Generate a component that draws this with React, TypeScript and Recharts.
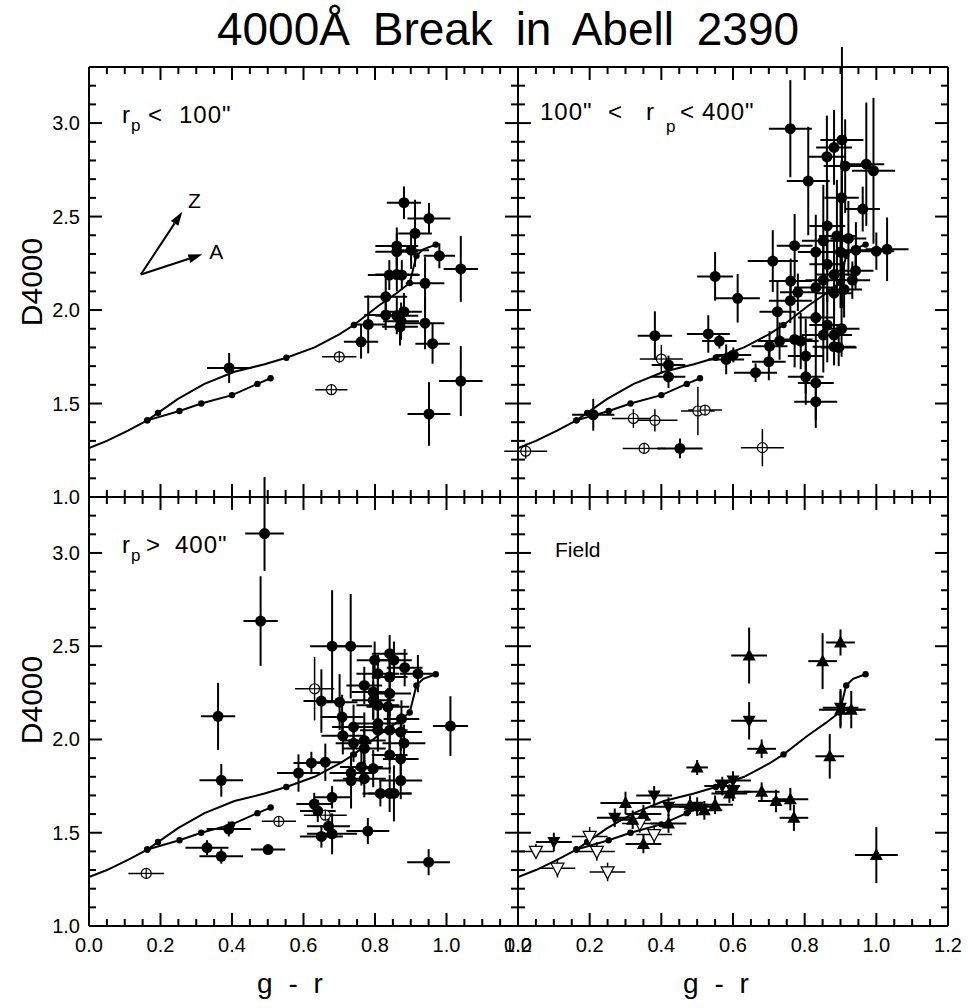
import React from 'react';
import { ScatterChart, Scatter, XAxis, YAxis, ErrorBar, ReferenceLine } from 'recharts';

const FONT = '"Liberation Sans", Arial, Helvetica, sans-serif';

// ---------- ticks ----------
const X_TICKS = [0, 0.05, 0.1, 0.15, 0.2, 0.25, 0.3, 0.35, 0.4, 0.45, 0.5, 0.55, 0.6, 0.65, 0.7, 0.75, 0.8, 0.85, 0.9, 0.95, 1.0, 1.05, 1.1, 1.15, 1.2];
const X_MAJOR = [0, 0.2, 0.4, 0.6, 0.8, 1.0, 1.2];
const Y_TICKS = [1.0, 1.1, 1.2, 1.3, 1.4, 1.5, 1.6, 1.7, 1.8, 1.9, 2.0, 2.1, 2.2, 2.3, 2.4, 2.5, 2.6, 2.7, 2.8, 2.9, 3.0, 3.1, 3.2];
const Y_MAJOR = [1.0, 1.5, 2.0, 2.5, 3.0];
const X_DOMAIN = [0, 1.2];
const Y_DOMAIN = [1.0, 3.3];

// ---------- model curves ----------
const MODEL_A = [
  { x: 0.0, y: 1.262 }, { x: 0.05, y: 1.3 }, { x: 0.109, y: 1.355 }, { x: 0.163, y: 1.41, d: 1 },
  { x: 0.193, y: 1.45, d: 1 }, { x: 0.249, y: 1.525 }, { x: 0.323, y: 1.605 }, { x: 0.407, y: 1.67 },
  { x: 0.491, y: 1.71 }, { x: 0.552, y: 1.745, d: 1 }, { x: 0.631, y: 1.8 }, { x: 0.7, y: 1.87 },
  { x: 0.741, y: 1.92, d: 1 }, { x: 0.808, y: 2.02 }, { x: 0.86, y: 2.09 }, { x: 0.897, y: 2.145, d: 1 },
  { x: 0.916, y: 2.29, d: 1 }, { x: 0.935, y: 2.325 }, { x: 0.97, y: 2.35, d: 1 },
];
const MODEL_B = [
  { x: 0.163, y: 1.41, d: 1 }, { x: 0.253, y: 1.46, d: 1 }, { x: 0.314, y: 1.5, d: 1 },
  { x: 0.4, y: 1.545, d: 1 }, { x: 0.471, y: 1.605, d: 1 }, { x: 0.508, y: 1.635, d: 1 },
];

// ---------- r_p < 100" ----------
const CORE_FILLED = [
  { x: 0.392, y: 1.69, ex: 0.062, ey: 0.08 },
  { x: 0.881, y: 2.574, ex: 0.048, ey: 0.087 },
  { x: 0.951, y: 2.49, ex: 0.06, ey: 0.083 },
  { x: 0.912, y: 2.41, ex: 0.047, ey: 0.18 },
  { x: 0.861, y: 2.342, ex: 0.06, ey: 0.1 },
  { x: 0.861, y: 2.312, ex: 0.06, ey: 0.1 },
  { x: 0.901, y: 2.32, ex: 0.05, ey: 0.1 },
  { x: 0.98, y: 2.29, ex: 0.044, ey: 0.067 },
  { x: 1.04, y: 2.22, ex: 0.048, ey: 0.176 },
  { x: 0.84, y: 2.187, ex: 0.06, ey: 0.08 },
  { x: 0.861, y: 2.19, ex: 0.06, ey: 0.09 },
  { x: 0.875, y: 2.187, ex: 0.05, ey: 0.08 },
  { x: 0.94, y: 2.143, ex: 0.054, ey: 0.14 },
  { x: 0.83, y: 2.071, ex: 0.06, ey: 0.1 },
  { x: 0.83, y: 1.973, ex: 0.06, ey: 0.08 },
  { x: 0.881, y: 1.991, ex: 0.05, ey: 0.1 },
  { x: 0.861, y: 1.97, ex: 0.06, ey: 0.1 },
  { x: 0.873, y: 1.94, ex: 0.05, ey: 0.1 },
  { x: 0.87, y: 1.91, ex: 0.05, ey: 0.1 },
  { x: 0.94, y: 1.93, ex: 0.054, ey: 0.14 },
  { x: 0.781, y: 1.923, ex: 0.048, ey: 0.155 },
  { x: 0.761, y: 1.83, ex: 0.048, ey: 0.09 },
  { x: 0.961, y: 1.82, ex: 0.048, ey: 0.107 },
  { x: 1.04, y: 1.62, ex: 0.061, ey: 0.187 },
  { x: 0.951, y: 1.444, ex: 0.06, ey: 0.17 },
];
const CORE_OPEN = [
  { x: 0.7, y: 1.75, ex: 0.048, ey: 0.03 },
  { x: 0.678, y: 1.574, ex: 0.045, ey: 0.02 },
];

// ---------- 100" < r_p < 400" ----------
const MID_FILLED = [
  { x: 0.21, y: 1.44, ex: 0.059, ey: 0.085 },
  { x: 0.452, y: 1.26, ex: 0.063, ey: 0.053 },
  { x: 0.382, y: 1.863, ex: 0.048, ey: 0.13 },
  { x: 0.42, y: 1.706, ex: 0.047, ey: 0.05 },
  { x: 0.42, y: 1.643, ex: 0.047, ey: 0.06 },
  { x: 0.55, y: 2.18, ex: 0.05, ey: 0.13 },
  { x: 0.613, y: 2.063, ex: 0.062, ey: 0.13 },
  { x: 0.531, y: 1.872, ex: 0.06, ey: 0.1 },
  { x: 0.562, y: 1.834, ex: 0.048, ey: 0.04 },
  { x: 0.581, y: 1.736, ex: 0.05, ey: 0.08 },
  { x: 0.601, y: 1.76, ex: 0.05, ey: 0.04 },
  { x: 0.663, y: 1.665, ex: 0.06, ey: 0.05 },
  { x: 0.7, y: 1.724, ex: 0.047, ey: 0.1 },
  { x: 0.702, y: 1.807, ex: 0.05, ey: 0.08 },
  { x: 0.73, y: 1.834, ex: 0.06, ey: 0.1 },
  { x: 0.724, y: 1.991, ex: 0.05, ey: 0.165 },
  { x: 0.711, y: 2.262, ex: 0.07, ey: 0.165 },
  { x: 0.772, y: 2.344, ex: 0.05, ey: 0.17 },
  { x: 0.76, y: 2.97, ex: 0.06, ey: 0.26 },
  { x: 0.81, y: 2.69, ex: 0.06, ey: 0.29 },
  { x: 0.862, y: 2.82, ex: 0.05, ey: 0.22 },
  { x: 0.882, y: 2.87, ex: 0.05, ey: 0.2 },
  { x: 0.904, y: 2.91, ex: 0.06, ey: [0.9, 0.5] },
  { x: 0.913, y: 2.77, ex: 0.06, ey: 0.25 },
  { x: 0.972, y: 2.78, ex: 0.05, ey: 0.33 },
  { x: 0.992, y: 2.745, ex: 0.06, ey: 0.39 },
  { x: 0.903, y: 2.6, ex: 0.048, ey: 0.2 },
  { x: 0.962, y: 2.54, ex: 0.048, ey: 0.12 },
  { x: 0.863, y: 2.45, ex: 0.05, ey: 0.25 },
  { x: 0.89, y: 2.396, ex: 0.05, ey: 0.3 },
  { x: 0.922, y: 2.383, ex: 0.05, ey: 0.2 },
  { x: 0.852, y: 2.37, ex: 0.06, ey: 0.3 },
  { x: 0.831, y: 2.31, ex: 0.05, ey: 0.2 },
  { x: 0.943, y: 2.32, ex: 0.05, ey: 0.15 },
  { x: 0.9, y: 2.31, ex: 0.05, ey: 0.3 },
  { x: 1.03, y: 2.325, ex: 0.06, ey: 0.17 },
  { x: 1.0, y: 2.315, ex: 0.05, ey: 0.1 },
  { x: 0.863, y: 2.245, ex: 0.05, ey: 0.2 },
  { x: 0.882, y: 2.19, ex: 0.05, ey: 0.2 },
  { x: 0.942, y: 2.21, ex: 0.05, ey: 0.1 },
  { x: 0.831, y: 2.12, ex: 0.06, ey: 0.2 },
  { x: 0.852, y: 2.16, ex: 0.05, ey: 0.2 },
  { x: 0.882, y: 2.09, ex: 0.05, ey: 0.2 },
  { x: 0.91, y: 2.11, ex: 0.05, ey: 0.15 },
  { x: 0.933, y: 2.16, ex: 0.05, ey: 0.1 },
  { x: 0.761, y: 2.155, ex: 0.06, ey: 0.12 },
  { x: 0.781, y: 2.095, ex: 0.05, ey: 0.1 },
  { x: 0.76, y: 2.05, ex: 0.06, ey: 0.12 },
  { x: 0.831, y: 1.96, ex: 0.05, ey: 0.2 },
  { x: 0.863, y: 1.92, ex: 0.05, ey: 0.2 },
  { x: 0.852, y: 1.866, ex: 0.06, ey: 0.2 },
  { x: 0.882, y: 1.866, ex: 0.05, ey: 0.15 },
  { x: 0.903, y: 1.9, ex: 0.05, ey: 0.15 },
  { x: 0.772, y: 1.843, ex: 0.05, ey: 0.15 },
  { x: 0.789, y: 1.834, ex: 0.05, ey: 0.15 },
  { x: 0.803, y: 1.754, ex: 0.05, ey: 0.2 },
  { x: 0.803, y: 1.643, ex: 0.05, ey: 0.15 },
  { x: 0.831, y: 1.61, ex: 0.05, ey: 0.2 },
  { x: 0.831, y: 1.51, ex: 0.06, ey: 0.14 },
  { x: 0.882, y: 1.804, ex: 0.06, ey: 0.1 },
  { x: 0.895, y: 1.8, ex: 0.05, ey: 0.1 },
];
const MID_OPEN = [
  { x: 0.0215, y: 1.245, ex: 0.06, ey: 0.04 },
  { x: 0.322, y: 1.42, ex: 0.06, ey: 0.05 },
  { x: 0.382, y: 1.41, ex: 0.063, ey: 0.06 },
  { x: 0.352, y: 1.26, ex: 0.06, ey: 0.03 },
  { x: 0.502, y: 1.46, ex: 0.047, ey: 0.13 },
  { x: 0.522, y: 1.465, ex: 0.047, ey: 0.02 },
  { x: 0.4, y: 1.738, ex: 0.06, ey: 0.076 },
  { x: 0.682, y: 1.264, ex: 0.06, ey: 0.1 },
];

// ---------- r_p > 400" ----------
const OUTER_FILLED = [
  { x: 0.491, y: 3.104, ex: 0.054, ey: [0.2, 0.4] },
  { x: 0.48, y: 2.635, ex: 0.048, ey: 0.24 },
  { x: 0.361, y: 2.124, ex: 0.048, ey: 0.18 },
  { x: 0.37, y: 1.781, ex: 0.061, ey: 0.088 },
  { x: 0.33, y: 1.42, ex: 0.06, ey: 0.04 },
  { x: 0.37, y: 1.374, ex: 0.061, ey: 0.04 },
  { x: 0.391, y: 1.52, ex: 0.062, ey: 0.04 },
  { x: 0.501, y: 1.41, ex: 0.048, ey: 0.02 },
  { x: 0.65, y: 2.206, ex: 0.05, ey: 0.17 },
  { x: 0.68, y: 2.5, ex: 0.062, ey: 0.3 },
  { x: 0.732, y: 2.5, ex: 0.06, ey: 0.28 },
  { x: 1.011, y: 2.072, ex: 0.049, ey: 0.16 },
  { x: 0.95, y: 1.342, ex: 0.06, ey: 0.07 },
  { x: 0.78, y: 1.509, ex: 0.06, ey: 0.07 },
  { x: 0.65, y: 1.48, ex: 0.06, ey: 0.06 },
  { x: 0.68, y: 1.494, ex: 0.07, ey: 0.11 },
  { x: 0.67, y: 1.535, ex: 0.06, ey: 0.06 },
  { x: 0.68, y: 1.69, ex: 0.05, ey: 0.06 },
  { x: 0.63, y: 1.654, ex: 0.05, ey: 0.06 },
  { x: 0.64, y: 1.617, ex: 0.05, ey: 0.06 },
  { x: 0.586, y: 1.82, ex: 0.06, ey: 0.1 },
  { x: 0.622, y: 1.874, ex: 0.05, ey: 0.06 },
  { x: 0.661, y: 1.878, ex: 0.05, ey: 0.1 },
  { x: 0.701, y: 2.2, ex: 0.05, ey: 0.15 },
  { x: 0.708, y: 2.12, ex: 0.06, ey: 0.12 },
  { x: 0.71, y: 2.02, ex: 0.06, ey: 0.1 },
  { x: 0.74, y: 2.067, ex: 0.06, ey: 0.12 },
  { x: 0.74, y: 1.98, ex: 0.05, ey: 0.1 },
  { x: 0.733, y: 1.82, ex: 0.06, ey: 0.08 },
  { x: 0.733, y: 1.78, ex: 0.05, ey: 0.15 },
  { x: 0.77, y: 2.29, ex: 0.05, ey: 0.1 },
  { x: 0.77, y: 1.995, ex: 0.06, ey: 0.15 },
  { x: 0.77, y: 1.952, ex: 0.06, ey: 0.1 },
  { x: 0.762, y: 1.853, ex: 0.06, ey: 0.1 },
  { x: 0.77, y: 1.79, ex: 0.06, ey: 0.1 },
  { x: 0.795, y: 2.255, ex: 0.06, ey: 0.15 },
  { x: 0.795, y: 2.21, ex: 0.06, ey: 0.1 },
  { x: 0.799, y: 2.425, ex: 0.05, ey: 0.1 },
  { x: 0.808, y: 2.353, ex: 0.06, ey: 0.1 },
  { x: 0.808, y: 2.183, ex: 0.06, ey: 0.15 },
  { x: 0.808, y: 2.085, ex: 0.06, ey: 0.15 },
  { x: 0.808, y: 2.05, ex: 0.05, ey: 0.1 },
  { x: 0.841, y: 2.46, ex: 0.05, ey: 0.1 },
  { x: 0.853, y: 2.425, ex: 0.05, ey: 0.1 },
  { x: 0.841, y: 2.335, ex: 0.05, ey: 0.15 },
  { x: 0.841, y: 2.246, ex: 0.06, ey: 0.12 },
  { x: 0.836, y: 2.175, ex: 0.06, ey: 0.1 },
  { x: 0.841, y: 2.05, ex: 0.05, ey: 0.12 },
  { x: 0.841, y: 1.917, ex: 0.05, ey: 0.1 },
  { x: 0.883, y: 2.385, ex: 0.05, ey: 0.1 },
  { x: 0.92, y: 2.353, ex: 0.05, ey: 0.1 },
  { x: 0.874, y: 2.11, ex: 0.05, ey: 0.1 },
  { x: 0.872, y: 2.04, ex: 0.06, ey: 0.1 },
  { x: 0.881, y: 1.98, ex: 0.06, ey: 0.1 },
  { x: 0.872, y: 1.896, ex: 0.05, ey: 0.1 },
  { x: 0.872, y: 1.78, ex: 0.06, ey: 0.1 },
  { x: 0.795, y: 1.844, ex: 0.05, ey: 0.1 },
  { x: 0.815, y: 1.711, ex: 0.05, ey: 0.07 },
  { x: 0.841, y: 1.711, ex: 0.06, ey: 0.1 },
  { x: 0.853, y: 1.711, ex: 0.05, ey: 0.15 },
];
const OUTER_OPEN = [
  { x: 0.16, y: 1.282, ex: 0.05, ey: 0.02 },
  { x: 0.531, y: 1.561, ex: 0.048, ey: 0.02 },
  { x: 0.631, y: 2.272, ex: 0.055, ey: 0.17 },
  { x: 0.661, y: 1.594, ex: 0.06, ey: 0.02 },
];

// ---------- Field ----------
const FIELD_UP = [
  { x: 0.645, y: 2.45, ex: 0.05, ey: 0.15 },
  { x: 0.68, y: 1.95, ex: 0.04, ey: 0.05 },
  { x: 0.85, y: 2.42, ex: 0.04, ey: 0.15 },
  { x: 0.9, y: 2.52, ex: 0.04, ey: 0.07 },
  { x: 0.87, y: 1.91, ex: 0.04, ey: 0.12 },
  { x: 0.9, y: 2.16, ex: 0.06, ey: 0.1 },
  { x: 0.93, y: 2.16, ex: 0.04, ey: 0.1 },
  { x: 1.0, y: 1.38, ex: 0.06, ey: 0.15 },
  { x: 0.5, y: 1.85, ex: 0.03, ey: 0.04 },
  { x: 0.3, y: 1.66, ex: 0.07, ey: 0.06 },
  { x: 0.35, y: 1.6, ex: 0.05, ey: 0.05 },
  { x: 0.35, y: 1.44, ex: 0.05, ey: 0.05 },
  { x: 0.42, y: 1.55, ex: 0.05, ey: 0.05 },
  { x: 0.48, y: 1.65, ex: 0.05, ey: 0.05 },
  { x: 0.52, y: 1.62, ex: 0.05, ey: 0.05 },
  { x: 0.55, y: 1.65, ex: 0.05, ey: 0.05 },
  { x: 0.59, y: 1.71, ex: 0.05, ey: 0.05 },
  { x: 0.68, y: 1.72, ex: 0.05, ey: 0.05 },
  { x: 0.72, y: 1.67, ex: 0.05, ey: 0.06 },
  { x: 0.76, y: 1.68, ex: 0.05, ey: 0.06 },
  { x: 0.77, y: 1.58, ex: 0.04, ey: 0.07 },
  { x: 0.32, y: 1.57, ex: 0.05, ey: 0.05 },
];
const FIELD_DOWN = [
  { x: 0.645, y: 2.1, ex: 0.05, ey: 0.1 },
  { x: 0.9, y: 2.17, ex: 0.05, ey: 0.1 },
  { x: 0.38, y: 1.7, ex: 0.05, ey: 0.05 },
  { x: 0.42, y: 1.64, ex: 0.05, ey: 0.05 },
  { x: 0.5, y: 1.64, ex: 0.05, ey: 0.05 },
  { x: 0.57, y: 1.75, ex: 0.05, ey: 0.05 },
  { x: 0.6, y: 1.78, ex: 0.05, ey: 0.05 },
  { x: 0.6, y: 1.72, ex: 0.05, ey: 0.05 },
  { x: 0.1, y: 1.45, ex: 0.05, ey: 0.05 },
  { x: 0.27, y: 1.58, ex: 0.05, ey: 0.05 },
];
const FIELD_OPEN_DOWN = [
  { x: 0.05, y: 1.4, ex: 0.05, ey: 0.04 },
  { x: 0.11, y: 1.31, ex: 0.05, ey: 0.05 },
  { x: 0.2, y: 1.48, ex: 0.05, ey: 0.05 },
  { x: 0.22, y: 1.4, ex: 0.05, ey: 0.05 },
  { x: 0.25, y: 1.29, ex: 0.05, ey: 0.05 },
  { x: 0.34, y: 1.55, ex: 0.05, ey: 0.05 },
  { x: 0.38, y: 1.49, ex: 0.05, ey: 0.05 },
];

// ---------- vectors ----------
const VEC_ORIGIN = { x: 0.145, y: 2.19 };
const VEC_Z = { x: 0.261, y: 2.526 };
const VEC_A = { x: 0.317, y: 2.298 };

// ---------- shapes ----------
const FilledCircle = (p: any) => <circle cx={p.cx} cy={p.cy} r={5.5} fill="#000" />;
const OpenCircle = (p: any) => (
  <g>
    <circle cx={p.cx} cy={p.cy} r={5} fill="#fff" stroke="#000" strokeWidth={1.2} />
    <line x1={p.cx - 5} y1={p.cy} x2={p.cx + 5} y2={p.cy} stroke="#000" strokeWidth={1.2} />
    <line x1={p.cx} y1={p.cy - 5} x2={p.cx} y2={p.cy + 5} stroke="#000" strokeWidth={1.2} />
  </g>
);
const CurveDot = (p: any) => {
  const d = (p.payload && p.payload.d) || p.d;
  return d ? <circle cx={p.cx} cy={p.cy} r={3.2} fill="#000" /> : <g />;
};
const TriUp = (p: any) => (
  <polygon points={`${p.cx},${p.cy - 7} ${p.cx - 6.5},${p.cy + 5} ${p.cx + 6.5},${p.cy + 5}`} fill="#000" />
);
const TriDown = (p: any) => (
  <polygon points={`${p.cx},${p.cy + 7} ${p.cx - 6.5},${p.cy - 5} ${p.cx + 6.5},${p.cy - 5}`} fill="#000" />
);
const TriDownOpen = (p: any) => (
  <polygon points={`${p.cx},${p.cy + 7} ${p.cx - 6.5},${p.cy - 5} ${p.cx + 6.5},${p.cy - 5}`} fill="#fff" stroke="#000" strokeWidth={1.2} />
);

const arrowShape = (label: string, dx: number, dy: number) => (p: any) => {
  const { x1, y1, x2, y2 } = p;
  const ang = Math.atan2(y2 - y1, x2 - x1);
  const L = 14, Wd = 4.5;
  const bx = x2 - L * Math.cos(ang), by = y2 - L * Math.sin(ang);
  const px = -Math.sin(ang) * Wd, py = Math.cos(ang) * Wd;
  return (
    <g>
      <line x1={x1} y1={y1} x2={bx} y2={by} stroke="#000" strokeWidth={2} />
      <polygon points={`${x2},${y2} ${bx + px},${by + py} ${bx - px},${by - py}`} fill="#000" />
      <text x={x2 + dx} y={y2 + dy} fontFamily={FONT} fontSize={21} textAnchor="middle" dominantBaseline="central" fill="#000">{label}</text>
    </g>
  );
};

// ---------- ticks ----------
const isIn = (arr: number[], v: number) => arr.some((m) => Math.abs(m - v) < 1e-6);
const makeTick = (orient: string, showLabel: boolean, majors: number[]) => (props: any) => {
  const { x, y, payload } = props;
  const v = payload.value;
  const major = isIn(majors, v);
  const len = major ? 13 : 7;
  let ln;
  if (orient === 'left') ln = { x1: x, y1: y, x2: x + len, y2: y };
  else if (orient === 'right') ln = { x1: x, y1: y, x2: x - len, y2: y };
  else if (orient === 'top') ln = { x1: x, y1: y, x2: x, y2: y + len };
  else ln = { x1: x, y1: y, x2: x, y2: y - len };
  let label = null;
  if (showLabel && major) {
    if (orient === 'left')
      label = <text x={x - 9} y={y} textAnchor="end" dominantBaseline="central" fontFamily={FONT} fontSize={20} fill="#000">{v.toFixed(1)}</text>;
    else if (orient === 'bottom')
      label = <text x={x} y={y + 26} textAnchor="middle" fontFamily={FONT} fontSize={20} fill="#000">{v.toFixed(1)}</text>;
  }
  return (
    <g>
      <line {...ln} stroke="#000" strokeWidth={2} />
      {label}
    </g>
  );
};

const AXIS_LINE = { stroke: '#000', strokeWidth: 2 };
// one pixel of each side is taken by the axis band (size 1)
const M = { top: 19, right: 19, bottom: 39, left: 49 };
const PAD = 1;

function series(key: string, data: any[], shape: any, sw: number) {
  return (
    <Scatter key={key} xAxisId="b" yAxisId="l" data={data} shape={shape} isAnimationActive={false}>
      <ErrorBar dataKey="ex" direction="x" width={0} stroke="#000" strokeWidth={sw} isAnimationActive={false} />
      <ErrorBar dataKey="ey" direction="y" width={0} stroke="#000" strokeWidth={sw} isAnimationActive={false} />
    </Scatter>
  );
}
function curves() {
  return [
    <Scatter key="ma" xAxisId="b" yAxisId="l" data={MODEL_A} fill="#000" line={{ stroke: '#000', strokeWidth: 2 }} shape={CurveDot} isAnimationActive={false} />,
    <Scatter key="mb" xAxisId="b" yAxisId="l" data={MODEL_B} fill="#000" line={{ stroke: '#000', strokeWidth: 2 }} shape={CurveDot} isAnimationActive={false} />,
  ];
}

function Panel(props: { left: number; top: number; w: number; h: number; showX: boolean; showY: boolean; children: any }) {
  const { left, top, w, h, showX, showY, children } = props;
  const ml = M.left + PAD, mt = M.top + PAD, mr = M.right + PAD, mb = M.bottom + PAD;
  return (
    <div style={{ position: 'absolute', left: left - ml, top: top - mt }}>
      <ScatterChart width={w + ml + mr} height={h + mt + mb} margin={M}>
        <XAxis xAxisId="b" orientation="bottom" type="number" dataKey="x" domain={X_DOMAIN} allowDataOverflow ticks={X_TICKS} interval={0} height={PAD} tickSize={0} tickMargin={0} tickLine={false} axisLine={AXIS_LINE} tick={makeTick('bottom', showX, X_MAJOR)} />
        <XAxis xAxisId="t" orientation="top" type="number" dataKey="x" domain={X_DOMAIN} allowDataOverflow ticks={X_TICKS} interval={0} height={PAD} tickSize={0} tickMargin={0} tickLine={false} axisLine={AXIS_LINE} tick={makeTick('top', false, X_MAJOR)} />
        <YAxis yAxisId="l" orientation="left" type="number" dataKey="y" domain={Y_DOMAIN} allowDataOverflow ticks={Y_TICKS} interval={0} width={PAD} tickSize={0} tickMargin={0} tickLine={false} axisLine={AXIS_LINE} tick={makeTick('left', showY, Y_MAJOR)} />
        <YAxis yAxisId="r" orientation="right" type="number" dataKey="y" domain={Y_DOMAIN} allowDataOverflow ticks={Y_TICKS} interval={0} width={PAD} tickSize={0} tickMargin={0} tickLine={false} axisLine={AXIS_LINE} tick={makeTick('right', false, Y_MAJOR)} />
        {children}
      </ScatterChart>
    </div>
  );
}

export default function App() {
  return (
    <div style={{ position: 'absolute', left: 0, top: 0, width: 968, height: 1008, background: '#fff' }}>
      <Panel left={89} top={67} w={429} h={430} showX={false} showY={true}>
        {curves()}
        {series('co', CORE_OPEN, OpenCircle, 1.5)}
        {series('cf', CORE_FILLED, FilledCircle, 2)}
        <ReferenceLine xAxisId="b" yAxisId="l" segment={[VEC_ORIGIN, VEC_Z]} ifOverflow="visible" shape={arrowShape('Z', 12, -11)} />
        <ReferenceLine xAxisId="b" yAxisId="l" segment={[VEC_ORIGIN, VEC_A]} ifOverflow="visible" shape={arrowShape('A', 14, -3)} />
      </Panel>
      <Panel left={518} top={67} w={430} h={430} showX={false} showY={false}>
        {curves()}
        {series('mo', MID_OPEN, OpenCircle, 1.5)}
        {series('mf', MID_FILLED, FilledCircle, 2)}
      </Panel>
      <Panel left={89} top={497} w={429} h={429} showX={true} showY={true}>
        {curves()}
        {series('oo', OUTER_OPEN, OpenCircle, 1.5)}
        {series('of', OUTER_FILLED, FilledCircle, 2)}
      </Panel>
      <Panel left={518} top={497} w={430} h={429} showX={true} showY={false}>
        {curves()}
        {series('fo', FIELD_OPEN_DOWN, TriDownOpen, 1.5)}
        {series('fd', FIELD_DOWN, TriDown, 2)}
        {series('fu', FIELD_UP, TriUp, 2)}
      </Panel>
      <svg width={968} height={1008} style={{ position: 'absolute', left: 0, top: 0, pointerEvents: 'none' }} fontFamily={FONT} fill="#000">
        <text x={508} y={45} fontSize={46} textAnchor="middle" wordSpacing={10}>4000Å Break in Abell 2390</text>
        <text x={42} y={282} fontSize={30} textAnchor="middle" transform="rotate(-90 42 282)">D4000</text>
        <text x={42} y={700} fontSize={30} textAnchor="middle" transform="rotate(-90 42 700)">D4000</text>
        <text x={290} y={993} fontSize={28} textAnchor="middle" wordSpacing={8}>g - r</text>
        <text x={716} y={993} fontSize={28} textAnchor="middle" wordSpacing={8}>g - r</text>
        <text fontSize={24} y={123}>
          <tspan x={122}>r</tspan>
          <tspan x={131} dy={8} fontSize={17}>p</tspan>
          <tspan x={148} dy={-8}>&lt;</tspan>
          <tspan x={179} letterSpacing={1}>100"</tspan>
        </text>
        <text fontSize={24} y={120}>
          <tspan x={540} letterSpacing={1}>100"</tspan>
          <tspan x={608}>&lt;</tspan>
          <tspan x={646}>r</tspan>
          <tspan x={666} dy={12} fontSize={17}>p</tspan>
          <tspan x={680} dy={-12}>&lt;</tspan>
          <tspan x={702} letterSpacing={1}>400"</tspan>
        </text>
        <text fontSize={24} y={553}>
          <tspan x={122}>r</tspan>
          <tspan x={131} dy={8} fontSize={17}>p</tspan>
          <tspan x={146} dy={-8}>&gt;</tspan>
          <tspan x={175} letterSpacing={1}>400"</tspan>
        </text>
        <text fontSize={21} x={555} y={557}>Field</text>
      </svg>
    </div>
  );
}
